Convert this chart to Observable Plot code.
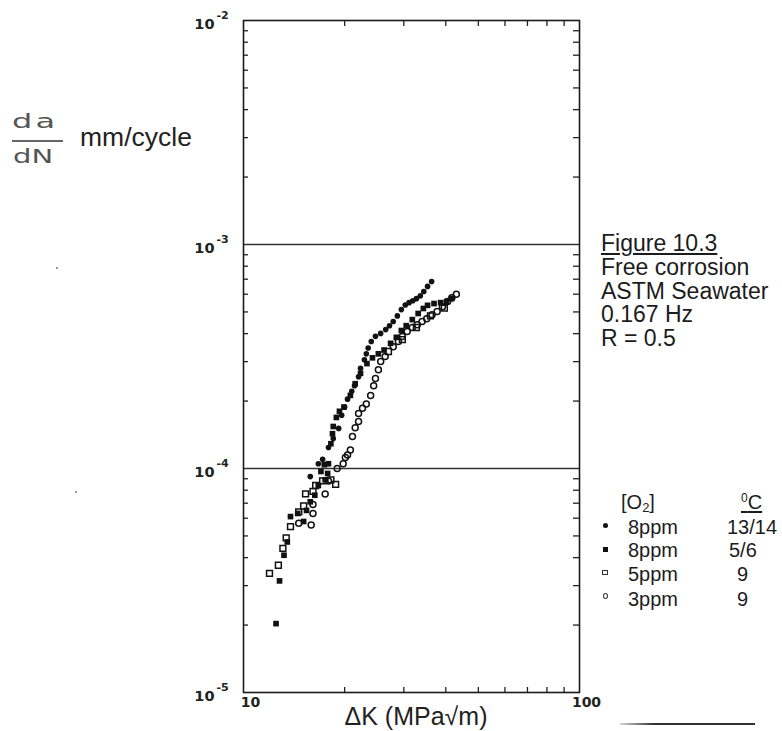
<!DOCTYPE html>
<html><head><meta charset="utf-8">
<script src="https://cdn.jsdelivr.net/npm/d3@7"></script>
<script src="https://cdn.jsdelivr.net/npm/@observablehq/plot@0.6"></script>
<style>
body{margin:0;background:#fff;}
#wrap{position:relative;width:782px;height:731px;overflow:hidden;font-family:"Liberation Sans",Arial,sans-serif;color:#1c1c1c;background:#fff;}
#wrap svg{position:absolute;left:0;top:0;}
.t{position:absolute;white-space:nowrap;line-height:1;}
.sym{position:absolute;box-sizing:border-box;}
</style></head><body><div id="wrap"></div>
<script>
// ---- data (ΔK in MPa√m, da/dN in mm/cycle) ----
const seriesO2 = ["8ppm", "8ppm", "5ppm", "3ppm"];
const seriesTemp = ["13/14", "5/6", "9", "9"];

// 8ppm, 13/14 °C (filled circles)
const s1_dK = [15.8,16.7,17.2,17.9,18.5,19.2,19.6,20.0,20.4,21.0,21.4,22.0,22.3,22.9,23.2,23.5,24.0,24.7,25.6,26.5,27.2,27.9,28.7,29.5,30.3,31.1,31.9,32.7,33.6,34.4,35.3,36.3];
const s1_rate = [9.2e-5,1.05e-4,1.10e-4,1.24e-4,1.36e-4,1.51e-4,1.73e-4,1.88e-4,2.04e-4,2.21e-4,2.34e-4,2.57e-4,2.80e-4,3.06e-4,3.25e-4,3.45e-4,3.69e-4,3.89e-4,4.01e-4,4.17e-4,4.34e-4,4.53e-4,4.80e-4,5.12e-4,5.37e-4,5.50e-4,5.61e-4,5.73e-4,5.90e-4,6.17e-4,6.50e-4,6.84e-4];

// 8ppm, 5/6 °C (filled squares)
const s2_dK = [12.5,12.8,13.2,13.5,13.8,14.5,15.1,15.4,15.8,16.3,16.7,17.0,17.4,17.9,17.8,17.5,18.2,18.4,18.5,18.9,19.3,19.9,20.8,21.5,22.3,23.3,24.2,25.2,26.2,27.4,28.5,29.5,30.5,31.8,33.1,34.3,35.3,36.9,38.6,40.2,41.6];
const s2_rate = [2.03e-5,3.15e-5,4.1e-5,4.7e-5,6.1e-5,6.3e-5,5.8e-5,6.5e-5,7.1e-5,7.6e-5,8.4e-5,9.7e-5,1.04e-4,1.05e-4,9.5e-5,8.9e-5,1.29e-4,1.43e-4,1.54e-4,1.69e-4,1.80e-4,1.88e-4,2.12e-4,2.39e-4,2.66e-4,2.94e-4,3.12e-4,3.25e-4,3.38e-4,3.62e-4,3.85e-4,4.13e-4,4.34e-4,4.62e-4,4.92e-4,5.18e-4,5.35e-4,5.45e-4,5.50e-4,5.56e-4,5.73e-4];

// 5ppm, 9 °C (open squares)
const s3_dK = [11.95,12.7,13.1,13.4,13.8,14.6,15.1,15.3,16.1,16.4,17.2,18.2,18.8,27.0,29.7,32.7,36.0,39.6];
const s3_rate = [3.4e-5,3.7e-5,4.4e-5,4.9e-5,5.5e-5,6.4e-5,6.8e-5,7.7e-5,7.9e-5,8.4e-5,8.8e-5,8.9e-5,8.5e-5,3.33e-4,3.76e-4,4.26e-4,4.8e-4,5.2e-4];

// 3ppm, 9 °C (open circles)
const s4_dK = [14.6,15.9,16.1,16.1,17.5,17.9,19.0,19.8,20.1,20.4,20.8,21.1,21.5,22.0,22.0,22.6,23.2,23.9,24.4,24.7,25.2,25.6,26.4,27.9,28.9,29.7,30.7,31.8,32.9,34.0,35.1,36.4,37.7,39.1,40.5,41.7,43.0];
const s4_rate = [5.7e-5,5.6e-5,6.3e-5,6.9e-5,7.7e-5,8.8e-5,1.0e-4,1.05e-4,1.12e-4,1.15e-4,1.21e-4,1.39e-4,1.52e-4,1.62e-4,1.76e-4,1.86e-4,1.94e-4,2.12e-4,2.34e-4,2.52e-4,2.76e-4,3.0e-4,3.16e-4,3.5e-4,3.69e-4,3.88e-4,4.09e-4,4.26e-4,4.38e-4,4.53e-4,4.66e-4,4.86e-4,5.02e-4,5.28e-4,5.56e-4,5.78e-4,6.0e-4];

// axes
const xTickValues = [10, 100];
const xTickLabels = ["10", "100"];
const yTickValues = [1e-2, 1e-3, 1e-4, 1e-5];
const yTickBase = "10";
const yTickExponents = ["-2", "-3", "-4", "-5"];
const gridValues = [1e-3, 1e-4];
const xMinor = [20, 30, 40, 50, 60, 70, 80, 90];
const yMinor = [];
for (const e of [-5, -4, -3]) for (let m = 2; m <= 9; m++) yMinor.push(m * Math.pow(10, e));

// ---- layout ----
const W = 782, H = 731;
const mL = 243, mR = 782 - 579, mT = 20, mB = 731 - 692;
const innerW = W - mL - mR, innerH = H - mT - mB;
const rows = (ks, rs) => ks.map((k, i) => ({dK: k, rate: rs[i]}));

const chart = Plot.plot({
  width: W, height: H,
  marginLeft: mL, marginRight: mR, marginTop: mT, marginBottom: mB,
  x: {type: "log", domain: [10, 100], label: null},
  y: {type: "log", domain: [1e-5, 1e-2], label: null, axis: null},
  style: {background: "transparent", fontFamily: "DejaVu Sans, sans-serif", color: "#222"},
  marks: [
    Plot.ruleY(gridValues, {stroke: "#333", strokeWidth: 1.3}),
    Plot.ruleX(xMinor, {insetTop: innerH - 5, stroke: "#222", strokeWidth: 1.3}),
    Plot.ruleX(xMinor, {insetBottom: innerH - 6, stroke: "#222", strokeWidth: 1.3}),
    Plot.ruleY(yMinor, {insetRight: innerW - 5, stroke: "#222", strokeWidth: 1.3}),
    Plot.ruleY(yMinor, {insetLeft: innerW - 6, stroke: "#222", strokeWidth: 1.3}),
    Plot.frame({stroke: "#1a1a1a", strokeWidth: 1.6}),
    Plot.dot(rows(s4_dK, s4_rate), {x: "dK", y: "rate", symbol: "circle", r: 3, stroke: "#111", strokeWidth: 1.5, fill: "none"}),
    Plot.dot(rows(s3_dK, s3_rate), {x: "dK", y: "rate", symbol: "square", r: 3.3, stroke: "#111", strokeWidth: 1.5, fill: "none"}),
    Plot.dot(rows(s2_dK, s2_rate), {x: "dK", y: "rate", symbol: "square", r: 3.2, fill: "#111", stroke: "none"}),
    Plot.dot(rows(s1_dK, s1_rate), {x: "dK", y: "rate", symbol: "circle", r: 2.8, fill: "#111", stroke: "none"}),
    Plot.axisX(xTickValues, {tickSize: 0, tickPadding: 5, dx: 7, tickFormat: d => xTickLabels[xTickValues.indexOf(d)], fontWeight: "bold", fontSize: 14, label: null}),
    Plot.text(yTickValues, {y: d => d, frameAnchor: "left", text: () => yTickBase, textAnchor: "end", dx: -29, dy: 4, fontSize: 14.5, fontWeight: "bold", fill: "#222"}),
    Plot.text(yTickValues, {y: d => d, frameAnchor: "left", text: (d, i) => yTickExponents[i], textAnchor: "start", dx: -27, dy: -5, fontSize: 11, fontWeight: "bold", fill: "#222"})
  ]
});

const wrap = document.getElementById("wrap");
wrap.appendChild(chart);

function addText(html, left, top, css) {
  const d = document.createElement("div");
  d.className = "t";
  d.innerHTML = html;
  d.style.left = left + "px";
  d.style.top = top + "px";
  Object.assign(d.style, css || {});
  wrap.appendChild(d);
  return d;
}
function addBox(left, top, css) {
  const d = document.createElement("div");
  d.className = "sym";
  d.style.left = left + "px";
  d.style.top = top + "px";
  Object.assign(d.style, css || {});
  wrap.appendChild(d);
  return d;
}

// y-axis title: da/dN  mm/cycle
addText("da", 12, 111, {fontFamily: "DejaVu Sans", fontSize: "20px", color: "#555", transform: "scaleX(1.6)", transformOrigin: "left top", letterSpacing: "2px"});
addBox(12, 140, {width: "51px", height: "1.6px", background: "#666"});
addText("dN", 13, 146, {fontFamily: "DejaVu Sans", fontSize: "20px", color: "#555", transform: "scaleX(1.45)", transformOrigin: "left top"});
addText("mm/cycle", 80, 124, {fontSize: "26.5px", color: "#222"});

// x-axis title
addText("\u0394K (MPa\u221Am)", 416, 704, {fontSize: "25px", color: "#222", transform: "translateX(-50%)"});

// annotation block
addText('<span style="text-decoration:underline;text-underline-offset:2px">Figure 10.3</span><br>Free corrosion<br>ASTM Seawater<br>0.167 Hz<br>R = 0.5', 601, 232, {fontSize: "23px", lineHeight: "23.8px", color: "#1c1c1c"});

// legend
const legendSize = 20;
addText("[O<sub style='font-size:13px;vertical-align:-3px'>2</sub>]", 621, 492, {fontSize: legendSize + "px"});
addText("<span style='text-decoration:underline;text-underline-offset:2px'><sup style='font-size:12px;vertical-align:7px'>0</sup>C</span>", 741, 492, {fontSize: legendSize + "px"});
const rowBase = [534, 557, 581, 606];
const col2 = [727, 729, 737, 737];
const symCY = [525, 549, 572, 596];
for (let i = 0; i < 4; i++) {
  addText(seriesO2[i], 628, rowBase[i] - 17, {fontSize: legendSize + "px"});
  addText(seriesTemp[i], col2[i], rowBase[i] - 17, {fontSize: legendSize + "px"});
}
addBox(602.5, symCY[0] - 2.5, {width: "5px", height: "5px", borderRadius: "50%", background: "#111"});
addBox(602.5, symCY[1] - 2, {width: "5.5px", height: "4.5px", background: "#111"});
addBox(602, symCY[2] - 2.5, {width: "6px", height: "5px", border: "1.5px solid #333"});
addBox(602.5, symCY[3] - 3, {width: "5px", height: "6px", borderRadius: "50%", border: "1.5px solid #333"});

// scan artefacts / rule at bottom right
addBox(620, 723, {width: "135px", height: "1.5px", background: "linear-gradient(to right, rgba(40,40,40,0.2), #333 25%, #333)"});
addBox(56, 267, {width: "2px", height: "2px", borderRadius: "50%", background: "#777"});
addBox(75, 491, {width: "2px", height: "2px", borderRadius: "50%", background: "#777"});
</script>
</body></html>
